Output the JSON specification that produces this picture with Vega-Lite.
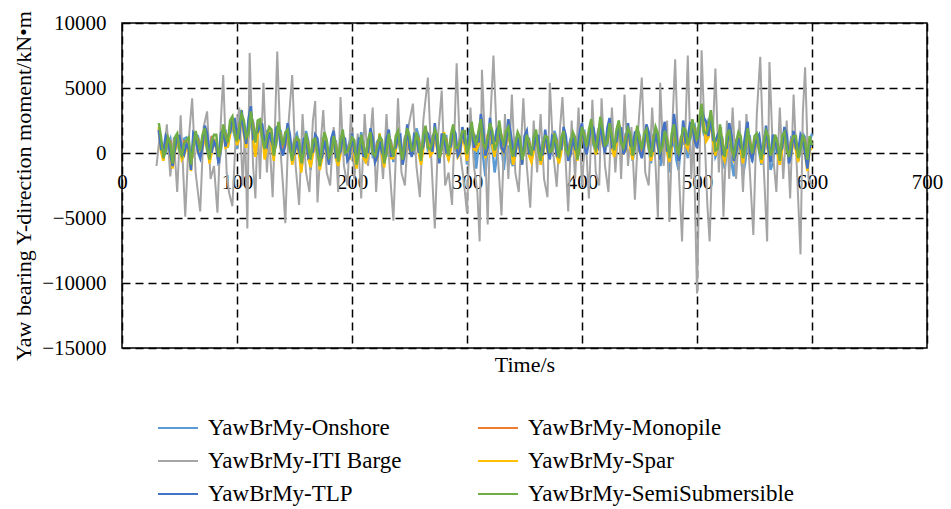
{
  "$schema": "https://vega.github.io/schema/vega-lite/v6.json",
  "autosize": {"type": "none"},
  "padding": {"left": 122, "top": 23, "right": 24, "bottom": 161},
  "width": 805,
  "height": 325,
  "config": {
    "font": "Liberation Serif",
    "view": {"stroke": "#000000", "strokeWidth": 1.5}
  },
  "datasets": {
    "w": [
      {"t":32,"on":1500,"mo":1700,"sp":2000,"tl":1800,"se":2300},
      {"t":36,"on":0,"mo":-200,"sp":-600,"tl":200,"se":-400},
      {"t":40,"on":700,"mo":1000,"sp":1100,"tl":900,"se":1200},
      {"t":44,"on":-500,"mo":-900,"sp":-1200,"tl":-1000,"se":-800},
      {"t":48,"on":1000,"mo":1200,"sp":800,"tl":1300,"se":1500},
      {"t":52,"on":-300,"mo":0,"sp":-500,"tl":300,"se":-200},
      {"t":56,"on":1200,"mo":900,"sp":400,"tl":700,"se":1000},
      {"t":60,"on":-800,"mo":-1000,"sp":-1400,"tl":-1300,"se":-900},
      {"t":64,"on":1400,"mo":1300,"sp":1500,"tl":1200,"se":1700},
      {"t":68,"on":500,"mo":300,"sp":0,"tl":-400,"se":200},
      {"t":72,"on":1500,"mo":1600,"sp":1200,"tl":2100,"se":1900},
      {"t":76,"on":-300,"mo":-400,"sp":-800,"tl":100,"se":-500},
      {"t":80,"on":600,"mo":800,"sp":1100,"tl":900,"se":1400},
      {"t":84,"on":-1000,"mo":-700,"sp":-500,"tl":-800,"se":-300},
      {"t":88,"on":1600,"mo":1700,"sp":2000,"tl":1800,"se":2200},
      {"t":92,"on":400,"mo":700,"sp":500,"tl":1300,"se":800},
      {"t":96,"on":2000,"mo":2200,"sp":2300,"tl":2500,"se":2800},
      {"t":100,"on":300,"mo":800,"sp":600,"tl":1400,"se":900},
      {"t":104,"on":2700,"mo":2800,"sp":2900,"tl":3300,"se":3000},
      {"t":108,"on":1500,"mo":1000,"sp":400,"tl":700,"se":1200},
      {"t":112,"on":2900,"mo":3000,"sp":3100,"tl":3600,"se":3200},
      {"t":116,"on":1200,"mo":900,"sp":-300,"tl":1500,"se":800},
      {"t":120,"on":2400,"mo":2300,"sp":2000,"tl":2200,"se":2600},
      {"t":124,"on":600,"mo":200,"sp":-500,"tl":800,"se":300},
      {"t":128,"on":1700,"mo":1500,"sp":1800,"tl":1600,"se":2000},
      {"t":132,"on":200,"mo":0,"sp":-600,"tl":400,"se":-200},
      {"t":136,"on":1900,"mo":2000,"sp":2200,"tl":2100,"se":2400},
      {"t":140,"on":300,"mo":400,"sp":100,"tl":-200,"se":600},
      {"t":144,"on":1400,"mo":1600,"sp":1500,"tl":2300,"se":1800},
      {"t":148,"on":0,"mo":-400,"sp":-900,"tl":-300,"se":-600},
      {"t":152,"on":1500,"mo":1100,"sp":700,"tl":900,"se":1200},
      {"t":156,"on":-1200,"mo":-900,"sp":-1500,"tl":-400,"se":-800},
      {"t":160,"on":1700,"mo":1300,"sp":900,"tl":1100,"se":1500},
      {"t":164,"on":-1300,"mo":-700,"sp":-1100,"tl":0,"se":-500},
      {"t":168,"on":800,"mo":900,"sp":600,"tl":1400,"se":1100},
      {"t":172,"on":-400,"mo":-800,"sp":-1300,"tl":-600,"se":-1000},
      {"t":176,"on":1300,"mo":1200,"sp":1200,"tl":1000,"se":1600},
      {"t":180,"on":-100,"mo":-400,"sp":-500,"tl":-900,"se":-300},
      {"t":184,"on":900,"mo":1100,"sp":1000,"tl":1700,"se":1300},
      {"t":188,"on":-500,"mo":-600,"sp":-1000,"tl":-200,"se":-700},
      {"t":192,"on":1500,"mo":1400,"sp":1400,"tl":1300,"se":1800},
      {"t":196,"on":300,"mo":0,"sp":-300,"tl":-600,"se":100},
      {"t":200,"on":800,"mo":1000,"sp":1000,"tl":1500,"se":1200},
      {"t":204,"on":-600,"mo":-700,"sp":-1200,"tl":-300,"se":-900},
      {"t":208,"on":1600,"mo":1200,"sp":900,"tl":1000,"se":1400},
      {"t":212,"on":-800,"mo":-500,"sp":-700,"tl":200,"se":-400},
      {"t":216,"on":1200,"mo":1400,"sp":1300,"tl":1900,"se":1600},
      {"t":220,"on":100,"mo":-300,"sp":-600,"tl":-700,"se":-200},
      {"t":224,"on":1100,"mo":1100,"sp":1500,"tl":900,"se":1300},
      {"t":228,"on":-300,"mo":-600,"sp":-1100,"tl":-400,"se":-800},
      {"t":232,"on":1300,"mo":1300,"sp":1000,"tl":1800,"se":1500},
      {"t":236,"on":-700,"mo":-300,"sp":-400,"tl":300,"se":-300},
      {"t":240,"on":1500,"mo":1400,"sp":1200,"tl":1300,"se":1700},
      {"t":244,"on":0,"mo":-500,"sp":-700,"tl":-900,"se":-500},
      {"t":248,"on":1600,"mo":1700,"sp":1500,"tl":2200,"se":1900},
      {"t":252,"on":400,"mo":100,"sp":-100,"tl":-300,"se":200},
      {"t":256,"on":1900,"mo":1400,"sp":1300,"tl":1200,"se":1600},
      {"t":260,"on":-200,"mo":-400,"sp":-900,"tl":100,"se":-600},
      {"t":264,"on":1800,"mo":1800,"sp":1900,"tl":1700,"se":2100},
      {"t":268,"on":200,"mo":300,"sp":-200,"tl":900,"se":300},
      {"t":272,"on":1500,"mo":1700,"sp":1400,"tl":2300,"se":1800},
      {"t":276,"on":-100,"mo":-500,"sp":-700,"tl":-800,"se":-400},
      {"t":280,"on":1300,"mo":1300,"sp":1600,"tl":1100,"se":1500},
      {"t":284,"on":-600,"mo":-200,"sp":-500,"tl":400,"se":-200},
      {"t":288,"on":1700,"mo":1900,"sp":2000,"tl":1900,"se":2200},
      {"t":292,"on":100,"mo":100,"sp":-300,"tl":-200,"se":400},
      {"t":296,"on":1300,"mo":1500,"sp":1200,"tl":2000,"se":1700},
      {"t":300,"on":-900,"mo":-400,"sp":-600,"tl":500,"se":-100},
      {"t":304,"on":1600,"mo":1900,"sp":2100,"tl":2000,"se":2400},
      {"t":308,"on":-1200,"mo":300,"sp":200,"tl":1200,"se":600},
      {"t":312,"on":1200,"mo":2000,"sp":2200,"tl":3000,"se":2600},
      {"t":316,"on":-1800,"mo":-300,"sp":-400,"tl":-200,"se":400},
      {"t":320,"on":800,"mo":1500,"sp":1800,"tl":2700,"se":2300},
      {"t":324,"on":-1500,"mo":-100,"sp":-300,"tl":900,"se":200},
      {"t":328,"on":1000,"mo":1700,"sp":1900,"tl":2100,"se":2500},
      {"t":332,"on":-1300,"mo":200,"sp":0,"tl":100,"se":700},
      {"t":336,"on":500,"mo":1400,"sp":1500,"tl":2600,"se":2000},
      {"t":340,"on":-1000,"mo":-500,"sp":-900,"tl":200,"se":-300},
      {"t":344,"on":900,"mo":1100,"sp":1000,"tl":1200,"se":1600},
      {"t":348,"on":0,"mo":-400,"sp":-800,"tl":-900,"se":-500},
      {"t":352,"on":1100,"mo":1200,"sp":1200,"tl":1700,"se":1400},
      {"t":356,"on":-400,"mo":-300,"sp":-700,"tl":400,"se":-200},
      {"t":360,"on":1500,"mo":1400,"sp":1400,"tl":1300,"se":1800},
      {"t":364,"on":-100,"mo":-500,"sp":-900,"tl":-200,"se":-600},
      {"t":368,"on":1000,"mo":1200,"sp":1100,"tl":1800,"se":1300},
      {"t":372,"on":300,"mo":0,"sp":-200,"tl":-500,"se":100},
      {"t":376,"on":1700,"mo":1300,"sp":1300,"tl":1100,"se":1500},
      {"t":380,"on":-200,"mo":-300,"sp":-800,"tl":200,"se":-400},
      {"t":384,"on":1300,"mo":1500,"sp":1500,"tl":2000,"se":1700},
      {"t":388,"on":200,"mo":-200,"sp":-400,"tl":-600,"se":-100},
      {"t":392,"on":1400,"mo":1300,"sp":1000,"tl":1200,"se":1600},
      {"t":396,"on":-300,"mo":-400,"sp":-600,"tl":100,"se":-500},
      {"t":400,"on":1600,"mo":1800,"sp":1800,"tl":2300,"se":2000},
      {"t":404,"on":300,"mo":300,"sp":200,"tl":-100,"se":500},
      {"t":408,"on":2100,"mo":2200,"sp":2400,"tl":2200,"se":2600},
      {"t":412,"on":100,"mo":300,"sp":-100,"tl":900,"se":300},
      {"t":416,"on":2200,"mo":2400,"sp":2500,"tl":2400,"se":2800},
      {"t":420,"on":700,"mo":500,"sp":300,"tl":0,"se":600},
      {"t":424,"on":1900,"mo":2100,"sp":2100,"tl":2700,"se":2300},
      {"t":428,"on":-200,"mo":100,"sp":-300,"tl":700,"se":200},
      {"t":432,"on":2200,"mo":2200,"sp":2300,"tl":2000,"se":2500},
      {"t":436,"on":600,"mo":300,"sp":0,"tl":-100,"se":400},
      {"t":440,"on":1600,"mo":1700,"sp":1700,"tl":2300,"se":1900},
      {"t":444,"on":-600,"mo":-300,"sp":-500,"tl":400,"se":-200},
      {"t":448,"on":1800,"mo":1800,"sp":1900,"tl":1700,"se":2100},
      {"t":452,"on":0,"mo":0,"sp":-200,"tl":-400,"se":300},
      {"t":456,"on":1400,"mo":1600,"sp":1500,"tl":2200,"se":1800},
      {"t":460,"on":-800,"mo":-400,"sp":-600,"tl":300,"se":-300},
      {"t":464,"on":1700,"mo":1700,"sp":1800,"tl":1600,"se":2000},
      {"t":468,"on":-1000,"mo":-300,"sp":-400,"tl":-500,"se":100},
      {"t":472,"on":900,"mo":1400,"sp":1500,"tl":2400,"se":1700},
      {"t":476,"on":-1500,"mo":-600,"sp":-700,"tl":200,"se":-400},
      {"t":480,"on":1200,"mo":1700,"sp":1800,"tl":3000,"se":2200},
      {"t":484,"on":-1300,"mo":-400,"sp":-300,"tl":-600,"se":0},
      {"t":488,"on":800,"mo":1400,"sp":1500,"tl":2500,"se":1900},
      {"t":492,"on":-400,"mo":300,"sp":300,"tl":1200,"se":600},
      {"t":496,"on":1800,"mo":2200,"sp":2400,"tl":2200,"se":2600},
      {"t":500,"on":600,"mo":700,"sp":800,"tl":400,"se":1000},
      {"t":504,"on":2800,"mo":3100,"sp":3200,"tl":3300,"se":3800},
      {"t":508,"on":1200,"mo":1200,"sp":900,"tl":2400,"se":1500},
      {"t":512,"on":2300,"mo":2600,"sp":2600,"tl":2900,"se":3300},
      {"t":516,"on":-300,"mo":100,"sp":-200,"tl":900,"se":200},
      {"t":520,"on":1300,"mo":1700,"sp":1900,"tl":1700,"se":2200},
      {"t":524,"on":-1200,"mo":-400,"sp":-600,"tl":300,"se":-300},
      {"t":528,"on":700,"mo":1400,"sp":1400,"tl":2300,"se":1800},
      {"t":532,"on":-1800,"mo":-600,"sp":-500,"tl":-600,"se":-200},
      {"t":536,"on":400,"mo":1100,"sp":1300,"tl":1200,"se":1600},
      {"t":540,"on":-1700,"mo":-600,"sp":-800,"tl":200,"se":-400},
      {"t":544,"on":1000,"mo":1500,"sp":1500,"tl":2400,"se":1900},
      {"t":548,"on":-700,"mo":-200,"sp":-300,"tl":-500,"se":0},
      {"t":552,"on":1300,"mo":1200,"sp":1200,"tl":1100,"se":1500},
      {"t":556,"on":-900,"mo":-500,"sp":-800,"tl":100,"se":-500},
      {"t":560,"on":900,"mo":1400,"sp":1400,"tl":2100,"se":1700},
      {"t":564,"on":-1300,"mo":-500,"sp":-400,"tl":-700,"se":-200},
      {"t":568,"on":600,"mo":1000,"sp":1200,"tl":1000,"se":1400},
      {"t":572,"on":-500,"mo":-500,"sp":-900,"tl":0,"se":-600},
      {"t":576,"on":1400,"mo":1400,"sp":1300,"tl":2000,"se":1600},
      {"t":580,"on":0,"mo":-300,"sp":-500,"tl":-800,"se":-300},
      {"t":584,"on":1100,"mo":1200,"sp":1000,"tl":1700,"se":1300},
      {"t":588,"on":-600,"mo":-400,"sp":-700,"tl":100,"se":-400},
      {"t":592,"on":1500,"mo":1200,"sp":1200,"tl":1000,"se":1400},
      {"t":596,"on":-200,"mo":-700,"sp":-1400,"tl":-1200,"se":-500},
      {"t":600,"on":1500,"mo":700,"sp":400,"tl":800,"se":600},
      {"t":34,"se":1200,"tl":300,"on":800,"sp":100,"mo":600},
      {"t":38,"se":200,"tl":1300,"on":0,"sp":800,"mo":300},
      {"t":42,"se":700,"tl":-100,"on":1100,"sp":-200,"mo":900},
      {"t":46,"se":1200,"tl":300,"on":800,"sp":100,"mo":600},
      {"t":50,"se":200,"tl":1300,"on":0,"sp":800,"mo":300},
      {"t":54,"se":700,"tl":-100,"on":1100,"sp":-200,"mo":900},
      {"t":58,"se":1200,"tl":300,"on":800,"sp":100,"mo":600},
      {"t":62,"se":400,"tl":1500,"on":200,"sp":1000,"mo":500},
      {"t":66,"se":900,"tl":100,"on":1300,"sp":0,"mo":1100},
      {"t":70,"se":1400,"tl":500,"on":1000,"sp":300,"mo":800},
      {"t":74,"se":400,"tl":1500,"on":200,"sp":1000,"mo":500},
      {"t":78,"se":900,"tl":100,"on":1300,"sp":0,"mo":1100},
      {"t":82,"se":1400,"tl":500,"on":1000,"sp":300,"mo":800},
      {"t":86,"se":400,"tl":1500,"on":200,"sp":1000,"mo":500},
      {"t":90,"se":1300,"tl":500,"on":1700,"sp":400,"mo":1500},
      {"t":94,"se":2500,"tl":1600,"on":2100,"sp":1400,"mo":1900},
      {"t":98,"se":1500,"tl":2600,"on":1300,"sp":2100,"mo":1600},
      {"t":102,"se":2000,"tl":1200,"on":2400,"sp":1100,"mo":2200},
      {"t":106,"se":2500,"tl":1600,"on":2100,"sp":1400,"mo":1900},
      {"t":110,"se":1500,"tl":2600,"on":1300,"sp":2100,"mo":1600},
      {"t":114,"se":2000,"tl":1200,"on":2400,"sp":1100,"mo":2200},
      {"t":118,"se":2500,"tl":1600,"on":2100,"sp":1400,"mo":1900},
      {"t":122,"se":1100,"tl":2200,"on":900,"sp":1700,"mo":1200},
      {"t":126,"se":1300,"tl":500,"on":1700,"sp":400,"mo":1500},
      {"t":130,"se":1800,"tl":900,"on":1400,"sp":700,"mo":1200},
      {"t":134,"se":800,"tl":1900,"on":600,"sp":1400,"mo":900},
      {"t":138,"se":1300,"tl":500,"on":1700,"sp":400,"mo":1500},
      {"t":142,"se":1600,"tl":700,"on":1200,"sp":500,"mo":1000},
      {"t":146,"se":300,"tl":1400,"on":100,"sp":900,"mo":400},
      {"t":150,"se":800,"tl":0,"on":1200,"sp":-100,"mo":1000},
      {"t":154,"se":1000,"tl":100,"on":600,"sp":-100,"mo":400},
      {"t":158,"se":0,"tl":1100,"on":-200,"sp":600,"mo":100},
      {"t":162,"se":500,"tl":-300,"on":900,"sp":-400,"mo":700},
      {"t":166,"se":1000,"tl":100,"on":600,"sp":-100,"mo":400},
      {"t":170,"se":0,"tl":1100,"on":-200,"sp":600,"mo":100},
      {"t":174,"se":500,"tl":-300,"on":900,"sp":-400,"mo":700},
      {"t":178,"se":1000,"tl":100,"on":600,"sp":-100,"mo":400},
      {"t":182,"se":0,"tl":1100,"on":-200,"sp":600,"mo":100},
      {"t":186,"se":500,"tl":-300,"on":900,"sp":-400,"mo":700},
      {"t":190,"se":1000,"tl":100,"on":600,"sp":-100,"mo":400},
      {"t":194,"se":0,"tl":1100,"on":-200,"sp":600,"mo":100},
      {"t":198,"se":500,"tl":-300,"on":900,"sp":-400,"mo":700},
      {"t":202,"se":1000,"tl":100,"on":600,"sp":-100,"mo":400},
      {"t":206,"se":0,"tl":1100,"on":-200,"sp":600,"mo":100},
      {"t":210,"se":500,"tl":-300,"on":900,"sp":-400,"mo":700},
      {"t":214,"se":1000,"tl":100,"on":600,"sp":-100,"mo":400},
      {"t":218,"se":0,"tl":1100,"on":-200,"sp":600,"mo":100},
      {"t":222,"se":500,"tl":-300,"on":900,"sp":-400,"mo":700},
      {"t":226,"se":1000,"tl":100,"on":600,"sp":-100,"mo":400},
      {"t":230,"se":0,"tl":1100,"on":-200,"sp":600,"mo":100},
      {"t":234,"se":500,"tl":-300,"on":900,"sp":-400,"mo":700},
      {"t":238,"se":1300,"tl":400,"on":900,"sp":200,"mo":700},
      {"t":242,"se":300,"tl":1400,"on":100,"sp":900,"mo":400},
      {"t":246,"se":800,"tl":0,"on":1200,"sp":-100,"mo":1000},
      {"t":250,"se":1300,"tl":400,"on":900,"sp":200,"mo":700},
      {"t":254,"se":300,"tl":1400,"on":100,"sp":900,"mo":400},
      {"t":258,"se":900,"tl":100,"on":1300,"sp":0,"mo":1100},
      {"t":262,"se":1400,"tl":500,"on":1000,"sp":300,"mo":800},
      {"t":266,"se":400,"tl":1500,"on":200,"sp":1000,"mo":500},
      {"t":270,"se":900,"tl":100,"on":1300,"sp":0,"mo":1100},
      {"t":274,"se":1400,"tl":500,"on":1000,"sp":300,"mo":800},
      {"t":278,"se":400,"tl":1500,"on":200,"sp":1000,"mo":500},
      {"t":282,"se":900,"tl":100,"on":1300,"sp":0,"mo":1100},
      {"t":286,"se":1400,"tl":500,"on":1000,"sp":300,"mo":800},
      {"t":290,"se":400,"tl":1500,"on":200,"sp":1000,"mo":500},
      {"t":294,"se":900,"tl":100,"on":1300,"sp":0,"mo":1100},
      {"t":298,"se":1700,"tl":800,"on":1300,"sp":600,"mo":1100},
      {"t":302,"se":700,"tl":1800,"on":500,"sp":1300,"mo":800},
      {"t":306,"se":1200,"tl":400,"on":800,"sp":300,"mo":1400},
      {"t":310,"se":1700,"tl":800,"on":500,"sp":600,"mo":1100},
      {"t":314,"se":700,"tl":1800,"on":-300,"sp":1300,"mo":800},
      {"t":318,"se":1200,"tl":400,"on":800,"sp":300,"mo":1400},
      {"t":322,"se":1700,"tl":800,"on":500,"sp":600,"mo":1100},
      {"t":326,"se":700,"tl":1800,"on":-300,"sp":1300,"mo":800},
      {"t":330,"se":1200,"tl":400,"on":800,"sp":300,"mo":1400},
      {"t":334,"se":1700,"tl":800,"on":500,"sp":600,"mo":1100},
      {"t":338,"se":400,"tl":1500,"on":-600,"sp":1000,"mo":500},
      {"t":342,"se":700,"tl":-100,"on":1100,"sp":-200,"mo":900},
      {"t":346,"se":1200,"tl":300,"on":800,"sp":100,"mo":600},
      {"t":350,"se":200,"tl":1300,"on":0,"sp":800,"mo":300},
      {"t":354,"se":700,"tl":-100,"on":1100,"sp":-200,"mo":900},
      {"t":358,"se":1200,"tl":300,"on":800,"sp":100,"mo":600},
      {"t":362,"se":200,"tl":1300,"on":0,"sp":800,"mo":300},
      {"t":366,"se":700,"tl":-100,"on":1100,"sp":-200,"mo":900},
      {"t":370,"se":1200,"tl":300,"on":800,"sp":100,"mo":600},
      {"t":374,"se":200,"tl":1300,"on":0,"sp":800,"mo":300},
      {"t":378,"se":700,"tl":-100,"on":1100,"sp":-200,"mo":900},
      {"t":382,"se":1200,"tl":300,"on":800,"sp":100,"mo":600},
      {"t":386,"se":200,"tl":1300,"on":0,"sp":800,"mo":300},
      {"t":390,"se":700,"tl":-100,"on":1100,"sp":-200,"mo":900},
      {"t":394,"se":1200,"tl":300,"on":800,"sp":100,"mo":600},
      {"t":398,"se":500,"tl":1600,"on":300,"sp":1100,"mo":600},
      {"t":402,"se":1300,"tl":500,"on":1700,"sp":400,"mo":1500},
      {"t":406,"se":1800,"tl":900,"on":1400,"sp":700,"mo":1200},
      {"t":410,"se":800,"tl":1900,"on":600,"sp":1400,"mo":900},
      {"t":414,"se":1300,"tl":500,"on":1700,"sp":400,"mo":1500},
      {"t":418,"se":1800,"tl":900,"on":1400,"sp":700,"mo":1200},
      {"t":422,"se":800,"tl":1900,"on":600,"sp":1400,"mo":900},
      {"t":426,"se":1300,"tl":500,"on":1700,"sp":400,"mo":1500},
      {"t":430,"se":1800,"tl":900,"on":1400,"sp":700,"mo":1200},
      {"t":434,"se":800,"tl":1900,"on":600,"sp":1400,"mo":900},
      {"t":438,"se":1100,"tl":300,"on":1500,"sp":200,"mo":1300},
      {"t":442,"se":1500,"tl":600,"on":1100,"sp":400,"mo":900},
      {"t":446,"se":500,"tl":1600,"on":300,"sp":1100,"mo":600},
      {"t":450,"se":1000,"tl":200,"on":1400,"sp":100,"mo":1200},
      {"t":454,"se":1500,"tl":600,"on":1100,"sp":400,"mo":900},
      {"t":458,"se":500,"tl":1600,"on":300,"sp":1100,"mo":600},
      {"t":462,"se":1000,"tl":200,"on":1400,"sp":100,"mo":1200},
      {"t":466,"se":1500,"tl":600,"on":1100,"sp":400,"mo":900},
      {"t":470,"se":500,"tl":1600,"on":-500,"sp":1100,"mo":600},
      {"t":474,"se":1000,"tl":200,"on":600,"sp":100,"mo":1200},
      {"t":478,"se":1500,"tl":600,"on":300,"sp":400,"mo":900},
      {"t":482,"se":500,"tl":1600,"on":-500,"sp":1100,"mo":600},
      {"t":486,"se":1000,"tl":200,"on":600,"sp":100,"mo":1200},
      {"t":490,"se":1800,"tl":900,"on":600,"sp":700,"mo":1200},
      {"t":494,"se":1200,"tl":2300,"on":1000,"sp":1800,"mo":1300},
      {"t":498,"se":1700,"tl":900,"on":2100,"sp":800,"mo":1900},
      {"t":502,"se":2600,"tl":1700,"on":2200,"sp":1500,"mo":2000},
      {"t":506,"se":1600,"tl":2700,"on":1400,"sp":2200,"mo":1700},
      {"t":510,"se":2100,"tl":1300,"on":2500,"sp":1200,"mo":2300},
      {"t":514,"se":1900,"tl":1000,"on":1500,"sp":800,"mo":1300},
      {"t":518,"se":300,"tl":1400,"on":100,"sp":900,"mo":400},
      {"t":522,"se":800,"tl":0,"on":1200,"sp":-100,"mo":1000},
      {"t":526,"se":1300,"tl":400,"on":100,"sp":200,"mo":700},
      {"t":530,"se":300,"tl":1400,"on":-700,"sp":900,"mo":400},
      {"t":534,"se":800,"tl":0,"on":400,"sp":-100,"mo":1000},
      {"t":538,"se":1300,"tl":400,"on":100,"sp":200,"mo":700},
      {"t":542,"se":300,"tl":1400,"on":-700,"sp":900,"mo":400},
      {"t":546,"se":800,"tl":0,"on":1200,"sp":-100,"mo":1000},
      {"t":550,"se":1300,"tl":400,"on":900,"sp":200,"mo":700},
      {"t":554,"se":300,"tl":1400,"on":100,"sp":900,"mo":400},
      {"t":558,"se":800,"tl":0,"on":1200,"sp":-100,"mo":1000},
      {"t":562,"se":1300,"tl":400,"on":100,"sp":200,"mo":700},
      {"t":566,"se":300,"tl":1400,"on":-700,"sp":900,"mo":400},
      {"t":570,"se":800,"tl":0,"on":1200,"sp":-100,"mo":1000},
      {"t":574,"se":1300,"tl":400,"on":900,"sp":200,"mo":700},
      {"t":578,"se":300,"tl":1400,"on":100,"sp":900,"mo":400},
      {"t":582,"se":800,"tl":0,"on":1200,"sp":-100,"mo":1000},
      {"t":586,"se":1300,"tl":400,"on":900,"sp":200,"mo":700},
      {"t":590,"se":300,"tl":1400,"on":100,"sp":900,"mo":400},
      {"t":594,"se":800,"tl":0,"on":1200,"sp":-100,"mo":1000},
      {"t":598,"se":1300,"tl":400,"on":900,"sp":200,"mo":700}
    ],
    "b": [
      {"t":30,"ba":-1000},{"t":33,"ba":1500},{"t":36,"ba":-500},{"t":39,"ba":2200},{"t":42,"ba":-1800},
      {"t":45,"ba":1200},{"t":48,"ba":-3000},{"t":51,"ba":2900},{"t":55,"ba":-4900},{"t":58,"ba":1000},
      {"t":61,"ba":4200},{"t":64,"ba":-1500},{"t":68,"ba":-4500},{"t":71,"ba":2000},{"t":74,"ba":3200},
      {"t":77,"ba":-2000},{"t":80,"ba":-1000},{"t":83,"ba":-4600},{"t":86,"ba":2500},{"t":88,"ba":6000},
      {"t":91,"ba":-1500},{"t":93,"ba":-3000},{"t":96,"ba":-4100},{"t":99,"ba":1500},{"t":102,"ba":3500},
      {"t":105,"ba":-2500},{"t":107,"ba":2000},{"t":109,"ba":-5800},{"t":111,"ba":7700},{"t":114,"ba":-1000},
      {"t":116,"ba":-3500},{"t":118,"ba":2500},{"t":120,"ba":-2000},{"t":123,"ba":5400},{"t":126,"ba":-1500},
      {"t":128,"ba":1500},{"t":131,"ba":-3400},{"t":133,"ba":2000},{"t":135,"ba":7800},{"t":138,"ba":0},
      {"t":140,"ba":-2500},{"t":142,"ba":-5400},{"t":145,"ba":2500},{"t":148,"ba":6000},{"t":151,"ba":-1000},
      {"t":154,"ba":-4000},{"t":157,"ba":3000},{"t":160,"ba":-1500},{"t":163,"ba":-3000},{"t":166,"ba":2500},
      {"t":168,"ba":4000},{"t":170,"ba":-3800},{"t":173,"ba":1000},{"t":175,"ba":3300},{"t":178,"ba":-1500},
      {"t":181,"ba":-2500},{"t":184,"ba":2000},{"t":186,"ba":500},{"t":188,"ba":-3000},{"t":190,"ba":4300},
      {"t":193,"ba":-1000},{"t":196,"ba":-2500},{"t":199,"ba":3000},{"t":202,"ba":-2000},{"t":205,"ba":1500},
      {"t":208,"ba":-3500},{"t":211,"ba":3000},{"t":214,"ba":-1000},{"t":218,"ba":3500},{"t":221,"ba":-3000},
      {"t":224,"ba":1500},{"t":227,"ba":-2000},{"t":230,"ba":3000},{"t":233,"ba":-1500},{"t":236,"ba":-5200},
      {"t":240,"ba":4200},{"t":243,"ba":-1500},{"t":246,"ba":-2500},{"t":249,"ba":2000},{"t":253,"ba":3800},
      {"t":256,"ba":-1000},{"t":259,"ba":-3400},{"t":262,"ba":2500},{"t":266,"ba":5800},{"t":269,"ba":-500},
      {"t":272,"ba":-5800},{"t":275,"ba":1500},{"t":278,"ba":4800},{"t":281,"ba":-2500},{"t":284,"ba":-1500},
      {"t":287,"ba":-4000},{"t":291,"ba":6900},{"t":294,"ba":0},{"t":297,"ba":-2000},{"t":300,"ba":-4600},
      {"t":303,"ba":3500},{"t":306,"ba":-1000},{"t":309,"ba":-3000},{"t":311,"ba":-6800},{"t":313,"ba":6400},
      {"t":316,"ba":0},{"t":318,"ba":-5500},{"t":320,"ba":2000},{"t":323,"ba":7500},{"t":326,"ba":1000},
      {"t":330,"ba":-4800},{"t":333,"ba":3000},{"t":336,"ba":-2000},{"t":339,"ba":4500},{"t":342,"ba":-1500},
      {"t":345,"ba":-3000},{"t":349,"ba":4200},{"t":352,"ba":-1000},{"t":355,"ba":-4200},{"t":358,"ba":2500},
      {"t":361,"ba":-1500},{"t":364,"ba":3000},{"t":367,"ba":-2000},{"t":370,"ba":-3400},{"t":372,"ba":5400},
      {"t":375,"ba":0},{"t":378,"ba":-2600},{"t":381,"ba":2000},{"t":383,"ba":4300},{"t":386,"ba":-1000},
      {"t":388,"ba":-4500},{"t":391,"ba":2500},{"t":394,"ba":-2000},{"t":397,"ba":3500},{"t":400,"ba":-2500},
      {"t":403,"ba":1500},{"t":406,"ba":-3500},{"t":409,"ba":4100},{"t":412,"ba":-1500},{"t":415,"ba":-2500},
      {"t":417,"ba":4200},{"t":420,"ba":-1000},{"t":423,"ba":-3000},{"t":426,"ba":3500},{"t":429,"ba":-1500},
      {"t":432,"ba":2500},{"t":434,"ba":-2000},{"t":437,"ba":4500},{"t":440,"ba":-1000},{"t":443,"ba":2000},
      {"t":446,"ba":-3600},{"t":449,"ba":2000},{"t":452,"ba":5800},{"t":455,"ba":-1500},{"t":458,"ba":-2500},
      {"t":461,"ba":3500},{"t":464,"ba":-1000},{"t":466,"ba":-5000},{"t":468,"ba":5400},{"t":471,"ba":-1000},
      {"t":474,"ba":2500},{"t":476,"ba":-5300},{"t":479,"ba":3000},{"t":481,"ba":7200},{"t":484,"ba":-1000},
      {"t":487,"ba":-6800},{"t":490,"ba":2000},{"t":492,"ba":7500},{"t":495,"ba":-2000},{"t":497,"ba":1500},
      {"t":500,"ba":-10800},{"t":502,"ba":-2000},{"t":504,"ba":7900},{"t":507,"ba":500},{"t":509,"ba":-4000},
      {"t":511,"ba":-6800},{"t":514,"ba":2000},{"t":516,"ba":6500},{"t":519,"ba":-1500},{"t":521,"ba":2000},
      {"t":523,"ba":-4900},{"t":526,"ba":2500},{"t":528,"ba":-2000},{"t":531,"ba":3500},{"t":534,"ba":-2000},
      {"t":537,"ba":2500},{"t":540,"ba":-3000},{"t":543,"ba":3000},{"t":546,"ba":-1500},{"t":549,"ba":-6300},
      {"t":552,"ba":3000},{"t":555,"ba":7400},{"t":558,"ba":-1000},{"t":561,"ba":-6800},{"t":563,"ba":7000},
      {"t":566,"ba":0},{"t":569,"ba":-3000},{"t":572,"ba":3500},{"t":575,"ba":-2000},{"t":578,"ba":2500},
      {"t":581,"ba":-3500},{"t":584,"ba":4500},{"t":587,"ba":-1500},{"t":590,"ba":-7800},{"t":592,"ba":3000},
      {"t":594,"ba":6600},{"t":597,"ba":-2000},{"t":600,"ba":-2500}
    ]
  },
  "encoding": {
    "x": {
      "field": "t", "type": "quantitative",
      "scale": {"domain": [0, 700], "nice": false, "zero": false},
      "axis": {
        "title": "Time/s", "values": [0,100,200,300,400,500,600,700],
        "offset": -195, "domain": false, "ticks": false,
        "labelFlush": false, "labelOverlap": false,
        "labelFontSize": 21, "labelColor": "#000000", "labelPadding": 18,
        "grid": true, "gridColor": "#000000", "gridDash": [8, 5], "gridWidth": 1.5,
        "titleFontSize": 22, "titleFontWeight": "normal", "titleColor": "#000000",
        "titleY": 211, "titleBaseline": "middle"
      }
    },
    "y": {
      "field": "v", "type": "quantitative",
      "scale": {"domain": [-15000, 10000], "nice": false},
      "axis": {
        "title": "Yaw bearing Y-direction moment/kN•m",
        "values": [-15000,-10000,-5000,0,5000,10000], "format": "d",
        "domain": false, "ticks": false, "labelOverlap": false,
        "labelFontSize": 21, "labelColor": "#000000", "labelPadding": 16,
        "grid": true, "gridColor": "#000000", "gridDash": [8, 5], "gridWidth": 1.5,
        "titleFontSize": 22, "titleFontWeight": "normal", "titleColor": "#000000",
        "titleX": -99, "titleBaseline": "middle"
      }
    },
    "color": {
      "field": "s", "type": "nominal",
      "scale": {
        "domain": ["on","ba","tl","mo","sp","se"],
        "range": ["#5B9BD5","#A5A5A5","#4472C4","#ED7D31","#FFC000","#70AD47"]
      },
      "legend": {
        "title": null, "orient": "none", "legendX": 35, "legendY": 384,
        "columns": 2, "columnPadding": 72, "rowPadding": 0,
        "symbolType": "stroke", "symbolSize": 1600, "symbolStrokeWidth": 2,
        "labelFontSize": 23, "labelColor": "#000000", "labelLimit": 500, "labelOffset": 9,
        "labelExpr": "datum.label == 'on' ? 'YawBrMy-Onshore' : datum.label == 'mo' ? 'YawBrMy-Monopile' : datum.label == 'ba' ? 'YawBrMy-ITI Barge' : datum.label == 'sp' ? 'YawBrMy-Spar' : datum.label == 'tl' ? 'YawBrMy-TLP' : 'YawBrMy-SemiSubmersible'"
      }
    }
  },
  "layer": [
    {
      "data": {"name": "w"},
      "transform": [{"fold": ["on", "mo"], "as": ["s", "v"]}],
      "mark": {"type": "line", "strokeWidth": 2.5}
    },
    {
      "data": {"name": "b"},
      "transform": [{"fold": ["ba"], "as": ["s", "v"]}],
      "mark": {"type": "line", "strokeWidth": 2}
    },
    {
      "data": {"name": "w"},
      "transform": [{"fold": ["sp", "tl", "se"], "as": ["s", "v"]}],
      "mark": {"type": "line", "strokeWidth": 2.5}
    }
  ]
}
